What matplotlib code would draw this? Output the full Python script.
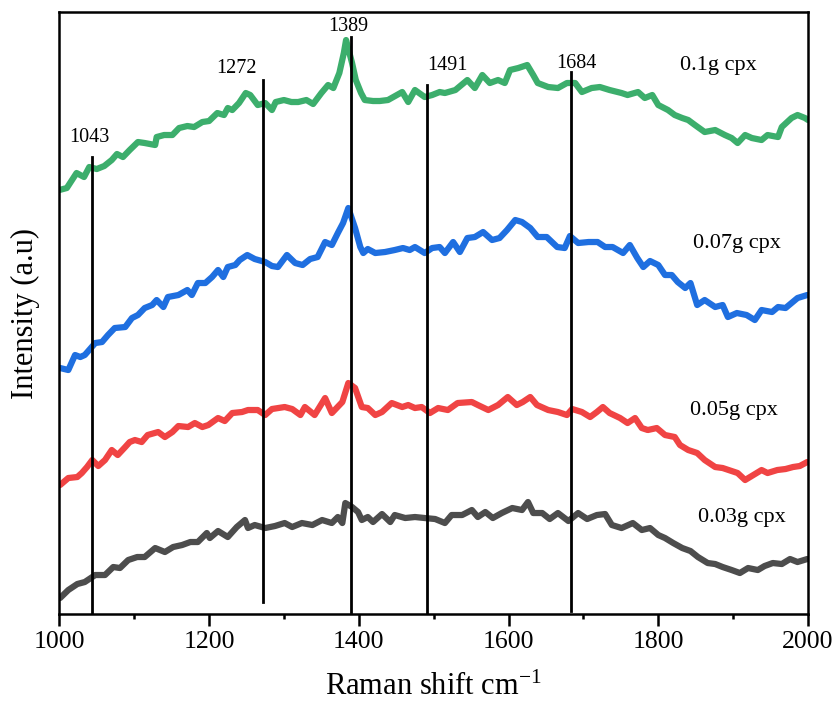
import matplotlib
matplotlib.use("Agg")
import matplotlib.pyplot as plt
from matplotlib.ticker import MultipleLocator

plt.rcParams["font.family"] = ["Liberation Serif", "DejaVu Serif"]
plt.rcParams["mathtext.fontset"] = "custom"
plt.rcParams["mathtext.rm"] = "Liberation Serif"
plt.rcParams["mathtext.it"] = "Liberation Serif:italic"

# Raman spectra (offset stack, arbitrary units)
wn_01 = [1000, 1010, 1023, 1033, 1040, 1050, 1060, 1070, 1077, 1085, 1094, 1105, 1114, 1128, 1130,
         1140, 1151, 1160, 1171, 1180, 1191, 1200, 1211, 1220, 1225, 1231, 1240, 1249, 1255, 1265,
         1275, 1284, 1289, 1300, 1310, 1319, 1330, 1339, 1350, 1359, 1366, 1374, 1380, 1383, 1391,
         1396, 1403, 1408, 1419, 1428, 1439, 1458, 1466, 1475, 1488, 1498, 1508, 1515, 1529, 1545,
         1555, 1565, 1575, 1586, 1595, 1602, 1613, 1625, 1633, 1639, 1653, 1666, 1678, 1689, 1698,
         1711, 1722, 1735, 1751, 1759, 1773, 1782, 1792, 1800, 1813, 1822, 1832, 1840, 1849, 1862,
         1876, 1889, 1898, 1906, 1916, 1925, 1938, 1946, 1960, 1965, 1978, 1986, 1996, 2000]
int_01 = [424, 426, 441, 437, 447, 445, 448, 454, 460, 457, 464, 472, 471, 469, 477,
          479, 479, 486, 488, 487, 492, 493, 501, 499, 506, 504, 511, 521, 519, 509,
          511, 504, 512, 514, 512, 512, 514, 510, 521, 529, 526, 541, 561, 574, 551,
          534, 521, 514, 513, 513, 514, 522, 512, 524, 517, 519, 522, 521, 524, 534,
          526, 539, 531, 534, 531, 544, 546, 549, 539, 531, 527, 526, 531, 531, 522,
          526, 527, 524, 521, 519, 522, 516, 519, 509, 504, 499, 496, 494, 489, 482,
          484, 479, 476, 471, 479, 476, 474, 479, 477, 487, 496, 499, 496, 494]

wn_007 = [1001, 1012, 1021, 1028, 1034, 1048, 1057, 1065, 1074, 1088, 1097, 1105, 1114, 1124, 1130,
          1139, 1145, 1159, 1171, 1177, 1185, 1195, 1204, 1212, 1219, 1225, 1235, 1241, 1251, 1261,
          1275, 1284, 1292, 1304, 1315, 1325, 1335, 1345, 1355, 1364, 1372, 1379, 1386, 1395, 1402,
          1406, 1412, 1422, 1435, 1448, 1459, 1468, 1475, 1488, 1498, 1508, 1515, 1526, 1535, 1545,
          1555, 1566, 1578, 1588, 1598, 1609, 1618, 1629, 1639, 1651, 1665, 1675, 1682, 1693, 1707,
          1719, 1729, 1739, 1753, 1762, 1772, 1780, 1789, 1800, 1809, 1818, 1826, 1836, 1843, 1852,
          1862, 1876, 1886, 1893, 1905, 1918, 1929, 1938, 1952, 1960, 1970, 1978, 1986, 1999]
int_007 = [246, 244, 259, 257, 259, 271, 272, 279, 286, 287, 296, 299, 306, 309, 314,
           307, 317, 319, 324, 319, 331, 331, 337, 344, 337, 347, 349, 354, 359, 355,
           352, 348, 347, 359, 351, 349, 355, 357, 372, 369, 381, 391, 406, 386, 367,
           361, 365, 361, 362, 364, 366, 364, 367, 361, 366, 367, 361, 372, 362, 376,
           377, 382, 374, 376, 384, 394, 392, 386, 377, 377, 367, 366, 378, 371, 372,
           372, 367, 367, 361, 369, 356, 347, 353, 349, 339, 339, 332, 326, 331, 309,
           314, 307, 309, 297, 301, 299, 294, 304, 302, 307, 306, 311, 316, 319]

wn_005 = [1001, 1012, 1024, 1030, 1037, 1044, 1052, 1061, 1070, 1078, 1088, 1094, 1101, 1110, 1118,
          1132, 1141, 1151, 1159, 1172, 1181, 1191, 1199, 1212, 1221, 1231, 1244, 1252, 1265, 1275,
          1284, 1301, 1311, 1322, 1328, 1341, 1355, 1364, 1378, 1386, 1395, 1404, 1412, 1422, 1431,
          1444, 1458, 1466, 1475, 1484, 1495, 1506, 1519, 1532, 1551, 1559, 1573, 1586, 1599, 1611,
          1619, 1629, 1638, 1653, 1666, 1678, 1685, 1698, 1709, 1718, 1726, 1735, 1749, 1759, 1769,
          1778, 1786, 1798, 1809, 1822, 1829, 1840, 1852, 1862, 1876, 1886, 1898, 1906, 1916, 1927,
          1938, 1946, 1959, 1970, 1980, 1989, 1999]
int_005 = [129, 136, 137, 141, 147, 154, 148, 154, 164, 159, 167, 172, 174, 172, 179,
           182, 177, 182, 188, 187, 191, 187, 189, 196, 193, 201, 202, 204, 204, 199,
           205, 207, 205, 199, 207, 199, 216, 201, 212, 231, 226, 207, 206, 199, 202,
           211, 207, 209, 206, 207, 201, 206, 204, 211, 212, 209, 204, 209, 217, 209,
           212, 217, 209, 204, 202, 199, 205, 202, 197, 202, 207, 201, 196, 191, 196,
           186, 184, 186, 179, 177, 169, 164, 161, 154, 147, 146, 143, 141, 134, 139,
           144, 141, 144, 145, 147, 148, 152]

wn_003 = [1001, 1012, 1024, 1034, 1048, 1061, 1072, 1081, 1092, 1104, 1114, 1128, 1141, 1152, 1164,
          1175, 1185, 1197, 1201, 1212, 1225, 1237, 1248, 1252, 1261, 1275, 1288, 1301, 1311, 1324,
          1338, 1351, 1364, 1372, 1378, 1382, 1391, 1399, 1404, 1412, 1419, 1431, 1442, 1448, 1462,
          1475, 1488, 1502, 1515, 1524, 1538, 1551, 1559, 1569, 1579, 1591, 1605, 1618, 1626, 1633,
          1645, 1655, 1666, 1680, 1693, 1705, 1718, 1729, 1738, 1751, 1766, 1778, 1789, 1800, 1809,
          1820, 1832, 1843, 1853, 1866, 1876, 1886, 1898, 1909, 1920, 1933, 1942, 1953, 1965, 1976,
          1986, 1999]
int_003 = [16, 24, 30, 32, 39, 39, 47, 46, 54, 57, 57, 66, 62, 67, 69,
           72, 72, 81, 76, 83, 77, 87, 94, 86, 89, 86, 88, 91, 87, 91,
           89, 94, 91, 97, 91, 111, 107, 102, 94, 97, 92, 100, 92, 99, 96,
           97, 96, 95, 91, 99, 99, 104, 97, 102, 96, 101, 106, 104, 112, 101,
           101, 95, 101, 93, 101, 95, 99, 100, 89, 86, 91, 84, 86, 79, 76,
           71, 66, 63, 57, 51, 50, 47, 44, 41, 46, 44, 48, 51, 50, 55,
           52, 55]

sample_labels = ["0.1g cpx", "0.07g cpx", "0.05g cpx", "0.03g cpx"]
colors = ["#3cae6c", "#1f6fe0", "#f04444", "#4d4d4d"]

# Marked Raman bands and the vertical extent of each marker line
peak_positions = [1043, 1272, 1389, 1491, 1684]
peak_line_top = [457, 534, 577, 529, 542]
peak_line_bottom = [0, 12, 2, 0, 3]
peak_label_x = [1040, 1237, 1386, 1519, 1690]
peak_label_y = [472, 541, 583, 544, 546]

sample_label_x = [1880, 1905, 1901, 1912]
sample_label_y = [544, 366, 199, 92]

fig = plt.figure(figsize=(8.38, 7.11), dpi=100)
ax = fig.add_axes([0.0708, 0.1364, 0.8934, 0.8467])

series = [(wn_01, int_01), (wn_007, int_007), (wn_005, int_005), (wn_003, int_003)]
for (x, y), c in zip(series, colors):
    ax.plot(x, y, color=c, lw=4.5, solid_joinstyle="round", solid_capstyle="round", zorder=2)

for p, top, bot in zip(peak_positions, peak_line_top, peak_line_bottom):
    ax.plot([p, p], [bot, top], color="black", lw=2.0, zorder=3)

for p, lx, ly in zip(peak_positions, peak_label_x, peak_label_y):
    ax.text(lx, ly, str(p), ha="center", va="baseline", fontsize=14.5)

for lab, lx, ly in zip(sample_labels, sample_label_x, sample_label_y):
    ax.text(lx, ly, lab, ha="center", va="baseline", fontsize=16)

ax.set_xlim(1000, 2000)
ax.set_ylim(0, 602)
ax.xaxis.set_major_locator(MultipleLocator(200))
ax.xaxis.set_minor_locator(MultipleLocator(100))
ax.tick_params(axis="x", which="major", direction="out", length=8.5, width=1.8,
               labelsize=18.5, pad=4)
ax.tick_params(axis="x", which="minor", direction="out", length=3.8, width=1.8)
ax.set_yticks([])
for s in ax.spines.values():
    s.set_linewidth(1.8)

ax.set_xlabel(r"Raman shift cm$^{\mathrm{-1}}$", fontsize=22, labelpad=14)
ax.set_ylabel("Intensity (a.u)", fontsize=22, labelpad=14)

fig.savefig("out.png", dpi=100)
